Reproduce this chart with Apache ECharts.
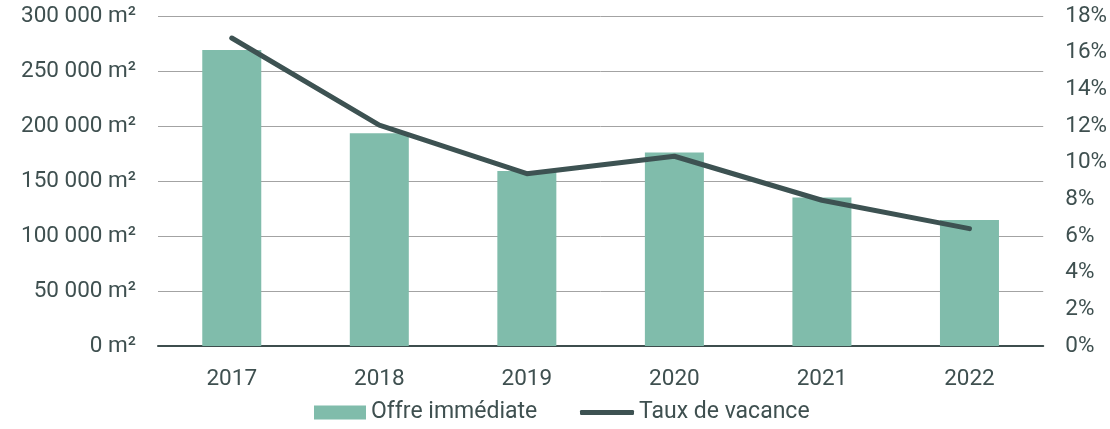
<!DOCTYPE html>
<html><head><meta charset="utf-8">
<script src="https://cdn.jsdelivr.net/npm/echarts@6/dist/echarts.min.js"></script>
<style>html,body{margin:0;padding:0;background:#fff}#c{width:1110px;height:429px}</style>
</head><body><div id="c"></div>
<script>
const categories = ['2017','2018','2019','2020','2021','2022'];
const offre = [269000, 193500, 159000, 176000, 135000, 114500];
const taux = [16.8, 12.05, 9.4, 10.35, 7.95, 6.4];
const txt = '#3f5050';
const fs = 22.5;
const chart = echarts.init(document.getElementById('c'));
chart.setOption({
  animation: false,
  textStyle: {fontFamily: 'Roboto'},
  grid: {left: 158, right: 66, top: 16, bottom: 83},
  legend: [{
    top: 401, left: 314, padding: 0, itemWidth: 52, itemHeight: 14, itemGap: 0,
    textStyle: {color: txt, fontSize: 23, fontFamily: 'Roboto'},
    data: [{name: 'Offre immédiate', icon: 'rect'}]
  }, {
    top: 401, left: 580, padding: 0, itemWidth: 54, itemHeight: 5, itemGap: 0,
    textStyle: {color: txt, fontSize: 23, fontFamily: 'Roboto'},
    data: [{name: 'Taux de vacance', icon: 'roundRect'}]
  }],
  xAxis: {
    type: 'category', data: categories,
    axisLine: {lineStyle: {color: '#3e4d4d', width: 2}},
    axisTick: {show: false},
    axisLabel: {color: txt, fontSize: fs, margin: 22}
  },
  yAxis: [{
    type: 'value', min: 0, max: 300000, interval: 50000,
    axisLine: {show: false}, axisTick: {show: false},
    splitLine: {lineStyle: {color: '#a3a3a3', width: 1}},
    axisLabel: {color: txt, fontSize: fs, margin: 22,
      formatter: v => String(v).replace(/\B(?=(\d{3})+(?!\d))/g, ' ') + ' m²'}
  }, {
    type: 'value', min: 0, max: 18, interval: 2,
    axisLine: {show: false}, axisTick: {show: false}, splitLine: {show: false},
    axisLabel: {color: txt, fontSize: fs, margin: 22, formatter: v => v + '%'}
  }],
  series: [{
    name: 'Offre immédiate', type: 'bar', data: offre, barWidth: 59,
    itemStyle: {color: '#80bcab'}
  }, {
    name: 'Taux de vacance', type: 'line', yAxisIndex: 1, data: taux,
    symbol: 'none', lineStyle: {color: '#3d5252', width: 5, cap: 'round', join: 'round'},
    itemStyle: {color: '#3d5252'}
  }]
});
</script></body></html>
